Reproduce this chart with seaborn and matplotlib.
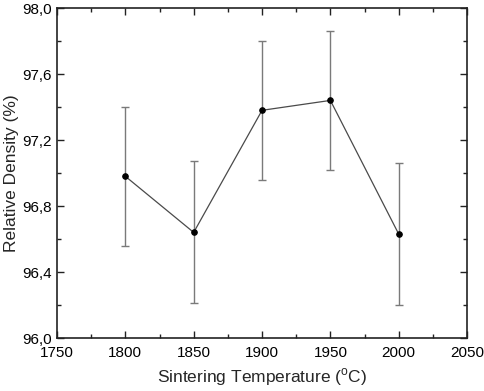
import numpy as np
import pandas as pd
import matplotlib
matplotlib.use("Agg")
import matplotlib.pyplot as plt
import seaborn as sns
from matplotlib.ticker import MultipleLocator, FuncFormatter

temps = [1800, 1850, 1900, 1950, 2000]
density = [96.98, 96.64, 97.38, 97.44, 96.63]
err = [0.42, 0.43, 0.42, 0.42, 0.43]

sns.set_theme(style="ticks")
plt.rcParams['font.family'] = ['Liberation Sans', 'DejaVu Sans']
plt.rcParams['mathtext.fontset'] = 'custom'
plt.rcParams['mathtext.rm'] = 'Liberation Sans'

df = pd.DataFrame({"T": temps, "D": density, "E": err})

fig = plt.figure(figsize=(4.84, 3.91), dpi=100)
ax = fig.add_axes([0.1178, 0.1355, 0.8472, 0.844])

ax.errorbar(df["T"], df["D"], yerr=df["E"], fmt="none", ecolor="#7a7a7a",
            elinewidth=1.0, capsize=3, capthick=1.0, zorder=1)
sns.lineplot(data=df, x="T", y="D", ax=ax, color="#4a4a4a", linewidth=0.9,
             marker="o", markersize=4, markerfacecolor="black",
             markeredgecolor="black", zorder=2)

ax.set_xlim(1750, 2050)
ax.set_ylim(96.0, 98.0)
ax.xaxis.set_major_locator(MultipleLocator(50))
ax.xaxis.set_minor_locator(MultipleLocator(25))
ax.yaxis.set_major_locator(MultipleLocator(0.4))
ax.yaxis.set_minor_locator(MultipleLocator(0.2))
ax.yaxis.set_major_formatter(FuncFormatter(lambda v, p: f"{v:.1f}".replace(".", ",")))

ax.tick_params(which="both", direction="in", top=True, right=True, colors="#222222",
               labelsize=11, labelcolor="black")
ax.tick_params(which="major", length=5, width=1)
ax.tick_params(which="minor", length=3, width=1)
ax.tick_params(axis="x", which="major", pad=6)
ax.tick_params(axis="y", which="major", pad=4)
for s in ax.spines.values():
    s.set_linewidth(1.2)
    s.set_color("#222222")

ax.set_xlabel(r"Sintering Temperature ($^{\rm o}$C)", fontsize=12.5, labelpad=4)
ax.set_ylabel("Relative Density (%)", fontsize=12.5, labelpad=2)

fig.savefig("out.png", dpi=100)
